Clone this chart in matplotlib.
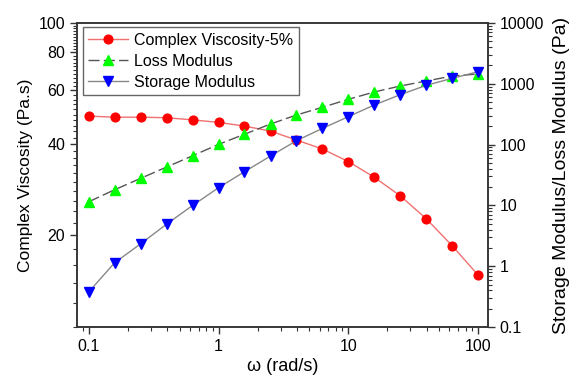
import matplotlib
matplotlib.use("Agg")
import matplotlib.pyplot as plt
from matplotlib.ticker import FixedLocator, FuncFormatter, LogLocator, NullFormatter

plt.rcParams["font.family"] = ["Liberation Sans", "DejaVu Sans"]

# Angular frequency (rad/s), 5 points per decade
omega = [0.1, 0.158, 0.251, 0.398, 0.631, 1.0, 1.58, 2.51, 3.98, 6.31,
         10.0, 15.8, 25.1, 39.8, 63.1, 100.0]

# Complex viscosity (Pa.s) - left axis
viscosity = [49.4, 49.0, 49.0, 48.8, 48.0, 47.1, 45.8, 44.1, 41.2, 38.5,
             35.0, 31.1, 27.0, 22.7, 18.5, 14.8]

# Loss / storage modulus (Pa) - right axis
loss_mod = [11.5, 18.1, 27.9, 42.8, 65.7, 101, 148, 218, 307, 411,
            556, 733, 920, 1112, 1343, 1449]
storage_mod = [0.38, 1.14, 2.34, 4.94, 10.0, 19.6, 35.8, 64.9, 116, 185,
               288, 448, 662, 944, 1231, 1582]

left_ticks = [20, 40, 60, 80, 100]
x_ticks = [0.1, 1, 10, 100]
right_ticks = [0.1, 1, 10, 100, 1000, 10000]

fig = plt.figure(figsize=(5.72, 3.78), dpi=100)
ax = fig.add_axes([77 / 572, 1 - 327 / 378, (488 - 77) / 572, (327 - 23) / 378])
ax2 = ax.twinx()

spine_col = "#333333"
fmt = FuncFormatter(lambda v, p: f"{v:g}")

# ── left axis: complex viscosity ──────────────────────────────────────
h1, = ax.plot(omega, viscosity, color="#f07070", lw=1.0, marker="o",
              ms=6.3, mfc="#ff0000", mec="#ff0000", label="Complex Viscosity-5%")
ax.set_xscale("log")
ax.set_yscale("log")
ax.set_xlim(0.081, 119)
ax.set_ylim(10, 100)
ax.yaxis.set_major_locator(FixedLocator(left_ticks))
ax.yaxis.set_minor_locator(FixedLocator([v for v in range(10, 100, 2) if v not in left_ticks]))
ax.yaxis.set_major_formatter(fmt)
ax.yaxis.set_minor_formatter(NullFormatter())
ax.xaxis.set_major_locator(FixedLocator(x_ticks))
ax.xaxis.set_minor_locator(LogLocator(base=10, subs=range(2, 10)))
ax.xaxis.set_major_formatter(fmt)
ax.xaxis.set_minor_formatter(NullFormatter())
ax.set_ylabel("Complex Viscosity (Pa.s)", fontsize=12.5, labelpad=4)
ax.set_xlabel("ω (rad/s)", fontsize=13, labelpad=3)

# ── right axis: moduli ────────────────────────────────────────────────
h2, = ax2.plot(omega, loss_mod, color="#555555", lw=1.0, ls=(0, (8, 3)),
               marker="^", ms=6.8, mfc="#00ff00", mec="#00ff00", label="Loss Modulus")
h3, = ax2.plot(omega, storage_mod, color="#888888", lw=1.0,
               marker="v", ms=6.8, mfc="#0000ff", mec="#0000ff", label="Storage Modulus")
ax2.set_yscale("log")
ax2.set_ylim(0.1, 10000)
ax2.yaxis.set_major_locator(FixedLocator(right_ticks))
ax2.yaxis.set_minor_locator(LogLocator(base=10, subs=range(2, 10)))
ax2.yaxis.set_major_formatter(fmt)
ax2.yaxis.set_minor_formatter(NullFormatter())
ax2.set_ylabel("Storage Modulus/Loss Modulus (Pa)", fontsize=14, labelpad=6)

for a in (ax, ax2):
    for s in a.spines.values():
        s.set_color(spine_col)
        s.set_linewidth(1.1)
    a.tick_params(which="major", length=5, width=1, color=spine_col, labelsize=11.5)
    a.tick_params(which="minor", length=3, width=0.8, color=spine_col)
ax.tick_params(axis="both", which="both", direction="out", top=False)
ax2.tick_params(axis="y", which="both", direction="out")

leg = ax2.legend(handles=[h1, h2, h3], loc="upper left", bbox_to_anchor=(0.014, 0.987),
                 borderaxespad=0, fontsize=11.5, fancybox=False, framealpha=1,
                 edgecolor="#666666", handlelength=2.5, handletextpad=0.35,
                 labelspacing=0.38, borderpad=0.35)
leg.get_frame().set_linewidth(1.0)

fig.savefig("out.png", dpi=100)
